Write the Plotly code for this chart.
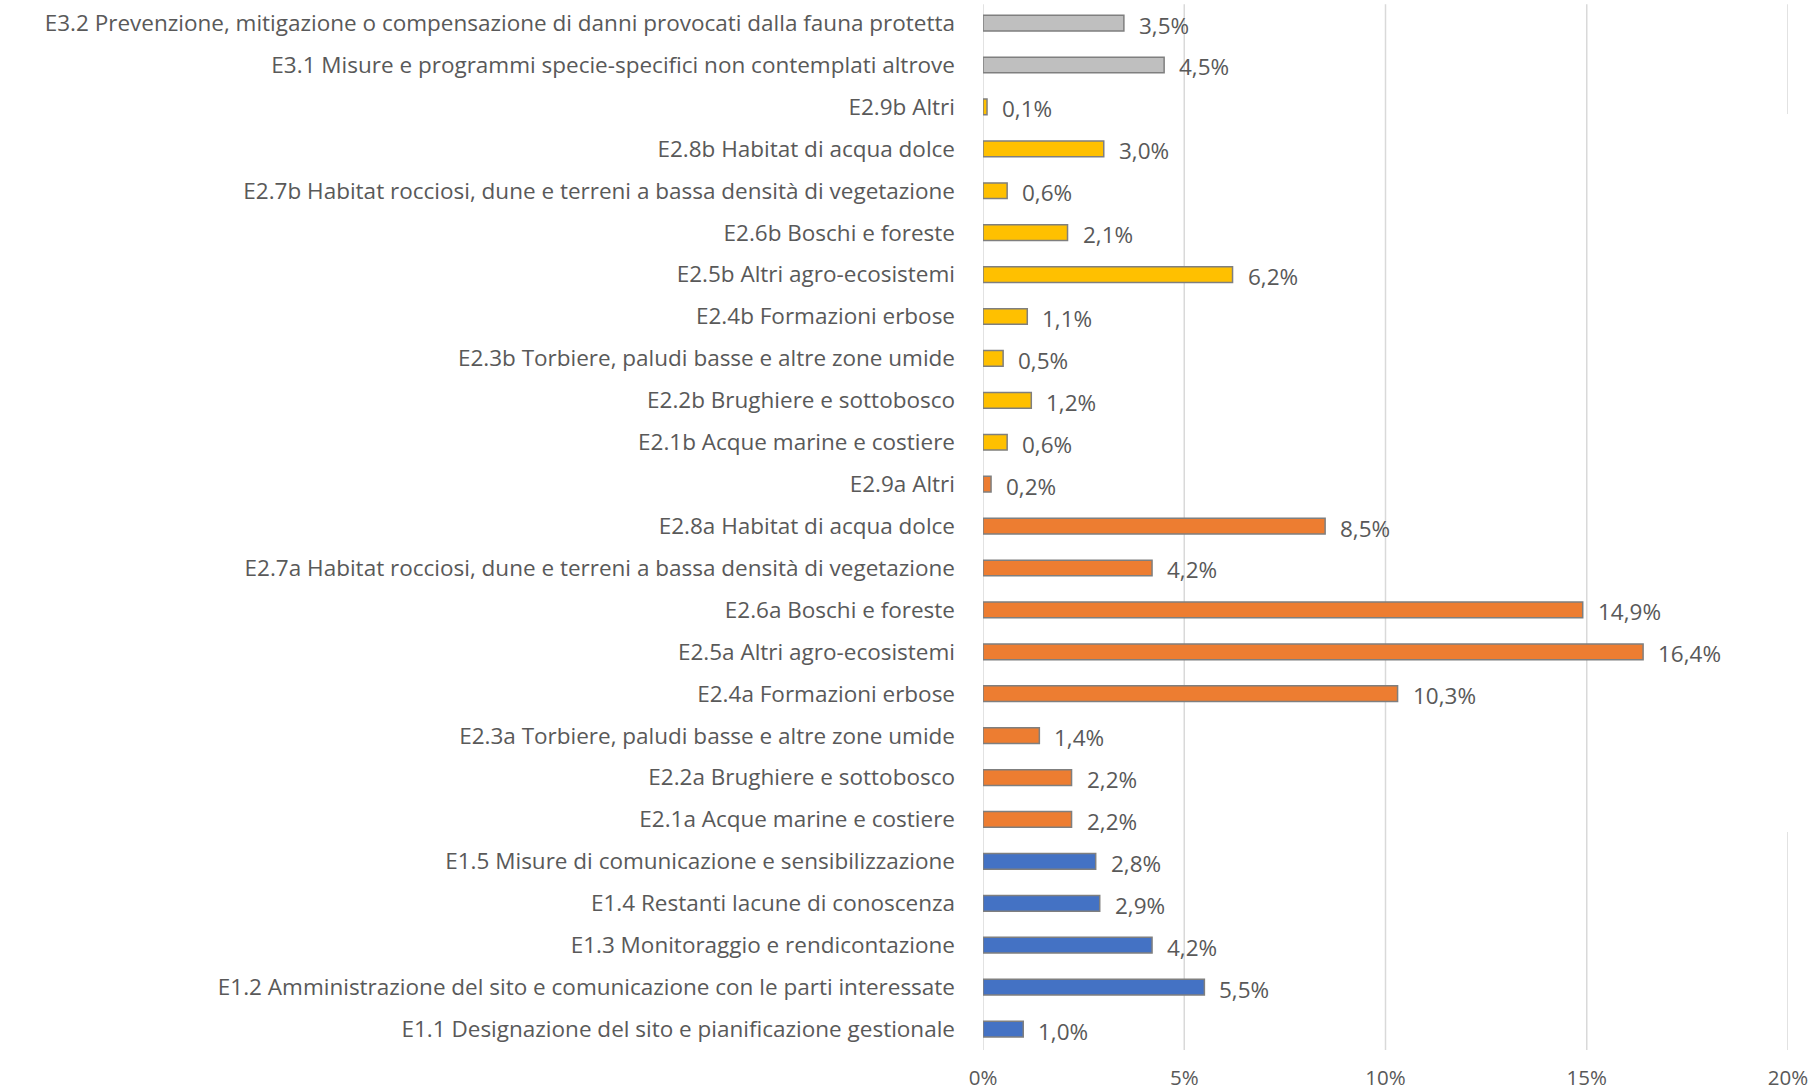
import plotly.graph_objects as go

# Categories bottom -> top (Plotly draws first category at the bottom)
categories = [
    "E1.1 Designazione del sito e pianificazione gestionale",
    "E1.2 Amministrazione del sito e comunicazione con le parti interessate",
    "E1.3 Monitoraggio e rendicontazione",
    "E1.4 Restanti lacune di conoscenza",
    "E1.5 Misure di comunicazione e sensibilizzazione",
    "E2.1a Acque marine e costiere",
    "E2.2a Brughiere e sottobosco",
    "E2.3a Torbiere, paludi basse e altre zone umide",
    "E2.4a Formazioni erbose",
    "E2.5a Altri agro-ecosistemi",
    "E2.6a Boschi e foreste",
    "E2.7a Habitat rocciosi, dune e terreni a bassa densità di vegetazione",
    "E2.8a Habitat di acqua dolce",
    "E2.9a Altri",
    "E2.1b Acque marine e costiere",
    "E2.2b Brughiere e sottobosco",
    "E2.3b Torbiere, paludi basse e altre zone umide",
    "E2.4b Formazioni erbose",
    "E2.5b Altri agro-ecosistemi",
    "E2.6b Boschi e foreste",
    "E2.7b Habitat rocciosi, dune e terreni a bassa densità di vegetazione",
    "E2.8b Habitat di acqua dolce",
    "E2.9b Altri",
    "E3.1 Misure e programmi specie-specifici non contemplati altrove",
    "E3.2 Prevenzione, mitigazione o compensazione di danni provocati dalla fauna protetta",
]
values = [1.0, 5.5, 4.2, 2.9, 2.8,
          2.2, 2.2, 1.4, 10.3, 16.4, 14.9, 4.2, 8.5, 0.2,
          0.6, 1.2, 0.5, 1.1, 6.2, 2.1, 0.6, 3.0, 0.1,
          4.5, 3.5]
groups = ["E1"] * 5 + ["E2a"] * 9 + ["E2b"] * 9 + ["E3"] * 2
group_colors = {"E1": "#4472C4", "E2a": "#ED7D31", "E2b": "#FFC000", "E3": "#BFBFBF"}
x_ticks = [0, 5, 10, 15, 20]
x_tick_labels = ["0%", "5%", "10%", "15%", "20%"]

FONT = "'Open Sans', 'Noto Sans', sans-serif"
FSIZE = 22.5
TEXT_COLOR = "#595959"
GRID_COLOR = "#D9D9D9"

fig = go.Figure()
fig.add_trace(go.Bar(
    y=categories, x=values, orientation="h",
    marker=dict(color=[group_colors[g] for g in groups],
                line=dict(color="#7F7F7F", width=1.5)),
    hoverinfo="x+y", showlegend=False,
))

# data labels
for c, v in zip(categories, values):
    fig.add_annotation(x=v, y=c, xref="x", yref="y", text=f"{v:.1f}%".replace(".", ","),
                       showarrow=False, xanchor="left", yanchor="middle", xshift=13, yshift=-2,
                       font=dict(family=FONT, size=FSIZE, color=TEXT_COLOR))

n = len(categories)
y_top = n - 1 + 0.55
grid_top = n - 1 + 0.45

# gridlines
shapes = []
for t in x_ticks[:-1]:
    shapes.append(dict(type="line", xref="x", yref="y", x0=t, x1=t, y0=-0.5, y1=grid_top,
                       line=dict(color=GRID_COLOR, width=1.5), layer="below"))
# the 20% gridline is only partially visible in the original
for y0, y1 in [(21.83, grid_top), (-0.5, 4.7)]:
    shapes.append(dict(type="line", xref="x", yref="y", x0=20, x1=20, y0=y0, y1=y1,
                       line=dict(color=GRID_COLOR, width=1.5), layer="below"))

fig.update_layout(
    width=1811, height=1091,
    margin=dict(l=983, r=23, t=0, b=41),
    paper_bgcolor="white", plot_bgcolor="white",
    bargap=0.626,
    shapes=shapes,
    font=dict(family=FONT, size=FSIZE, color=TEXT_COLOR),
    xaxis=dict(range=[0, 20], tickvals=x_ticks, ticktext=x_tick_labels, showgrid=False,
               zeroline=False, showline=False, ticks="", ticklabelstandoff=13,
               automargin=False,
               tickfont=dict(family=FONT, size=20.5, color=TEXT_COLOR)),
    yaxis=dict(categoryorder="array", categoryarray=categories, showgrid=False,
               zeroline=False, showline=False, ticks="", ticklabelstandoff=27,
               automargin=False,
               tickfont=dict(family=FONT, size=FSIZE, color=TEXT_COLOR),
               range=[-0.5, y_top]),
)

fig.write_html("out.html", config={"displayModeBar": False},
               post_script="document.body.style.margin='0';")
